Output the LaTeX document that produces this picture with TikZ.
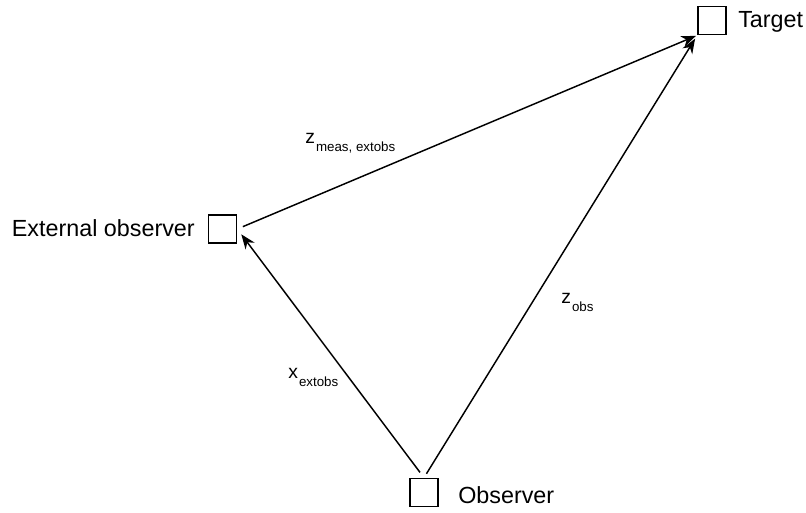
\documentclass[tikz,border=0pt]{standalone}
\usepackage{fontspec}
\setmainfont{Liberation Sans}
\usetikzlibrary{arrows.meta}

\newcommand{\biglbl}{\fontsize{17.5}{20}\selectfont}
\newcommand{\vecsym}[2]{{\fontsize{14.5}{16}\selectfont #1}\kern0.8pt\raisebox{-6.3pt}{\fontsize{10}{12}\selectfont #2}}

\begin{document}
\begin{tikzpicture}[x=0.75pt, y=-0.75pt,
	box/.style = {draw, line width=1.2pt, minimum size=21pt, inner sep=0pt},
	boxname/.style = {inner sep=0pt, anchor=base west, font=\biglbl},
	vec/.style = {line width=1.1pt, -{Stealth[length=11pt, width=8.5pt, inset=3.5pt]}}]
	% Frame
	\useasboundingbox (0,0) rectangle (806,512);
	
	% Draw boxes
	\node[box] (obs) at (424,492.5) {};
	\node[box] (ext) at (222.5,229) {};
	\node[box] (tgt) at (712,20.5) {};
	
	% Names of the boxes
	\node[boxname] (obsname) at (458,503) {Observer};
	\node[boxname, anchor=base east] (extname) at (195,236) {External observer};
	\node[boxname] (tgtname) at (738,27) {Target};
	
	% Draw vectors
	\draw[vec, shorten <=5pt, shorten >=5pt] (obs.north) -- (ext.east);
	\draw[vec, shorten <=3.5pt, shorten >=3pt] (obs.north) -- (tgt.south west);
	\draw[vec, shorten <=4.5pt, shorten >=1pt] (ext.east) -- (tgt.south west);
	
	% Vector labels
	\node[boxname] (xext) at (288,378) {\vecsym{x}{extobs}};
	\node[boxname] (zobs) at (561,303) {\vecsym{z}{obs}};
	\node[boxname] (zmeas) at (305,143) {\vecsym{z}{meas, extobs}};
	
\end{tikzpicture}
\end{document}
